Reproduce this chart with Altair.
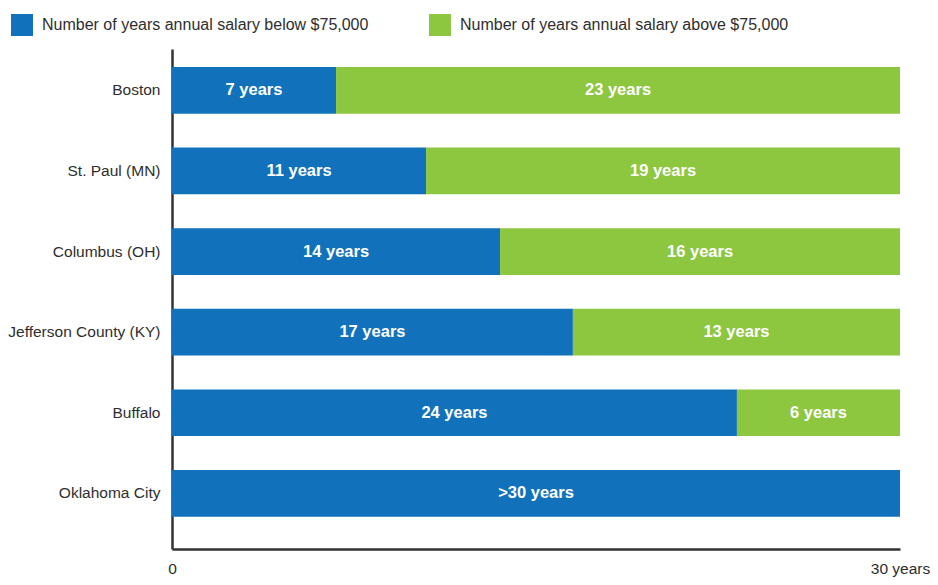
import altair as alt
import pandas as pd

FONT = "Liberation Sans, Arial, sans-serif"

cities = ["Boston", "St. Paul (MN)", "Columbus (OH)", "Jefferson County (KY)", "Buffalo", "Oklahoma City"]
years_below = [6.76, 10.47, 13.52, 16.52, 23.28, 30.0]
years_above = [23.24, 19.53, 16.48, 13.48, 6.72, 0.0]
labels_below = ["7 years", "11 years", "14 years", "17 years", "24 years", ">30 years"]
labels_above = ["23 years", "19 years", "16 years", "13 years", "6 years", ""]
series = ["Number of years annual salary below $75,000", "Number of years annual salary above $75,000"]
colors = ["#1172BB", "#8DC63F"]
x_ticks = [0, 30]

rows = []
for c, b, a, lb, la in zip(cities, years_below, years_above, labels_below, labels_above):
    rows.append({"city": c, "series": series[0], "start": 0.0, "end": b, "mid": b / 2, "label": lb})
    if a > 0:
        rows.append({"city": c, "series": series[1], "start": b, "end": b + a, "mid": b + a / 2, "label": la})
df = pd.DataFrame(rows)

y_enc = alt.Y(
    "city:N",
    sort=cities,
    scale=alt.Scale(paddingInner=0.42, paddingOuter=0.312, align=0.358),
    axis=alt.Axis(
        title=None, ticks=False, labelPadding=12, labelFontSize=15.5, labelFont=FONT,
        labelColor="#2e2e2e", domainColor="#333333", domainWidth=2.5, labelLimit=300,
    ),
)

bars = alt.Chart(df).mark_bar(cornerRadius=0, strokeWidth=0).encode(
    y=y_enc,
    x=alt.X(
        "start:Q",
        scale=alt.Scale(domain=[0, 30], nice=False),
        axis=alt.Axis(
            values=x_ticks, title=None, ticks=False, grid=False, labelPadding=12,
            labelFontSize=15.5, labelFont=FONT, labelColor="#2e2e2e",
            domainColor="#333333", domainWidth=2.5, labelFlush=False,
            labelExpr="datum.value == 30 ? '30 years' : datum.label",
        ),
    ),
    x2="end:Q",
    color=alt.Color(
        "series:N",
        scale=alt.Scale(domain=series, range=colors),
        legend=alt.Legend(
            orient="none", legendX=-161, legendY=-35, direction="horizontal",
            title=None, symbolType="square", symbolSize=484, symbolStrokeWidth=0,
            symbolOpacity=1, labelFontSize=16, labelFont=FONT, labelColor="#2e2e2e",
            labelOffset=9, columnPadding=60, labelLimit=600,
        ),
    ),
)

texts = alt.Chart(df[df["label"] != ""]).mark_text(
    color="white", fontWeight="bold", fontSize=16.5, font=FONT, baseline="middle", align="center"
).encode(
    y=alt.Y("city:N", sort=cities),
    x=alt.X("mid:Q"),
    text="label:N",
)

chart = (
    alt.layer(bars, texts)
    .properties(
        width=728, height=500,
        padding={"left": 164, "top": 41, "right": 30, "bottom": 28},
        autosize=alt.AutoSizeParams(type="none"),
        background="white",
    )
    .configure_view(stroke=None)
)

chart.save("out.html", embed_options={"renderer": "svg", "actions": False})
